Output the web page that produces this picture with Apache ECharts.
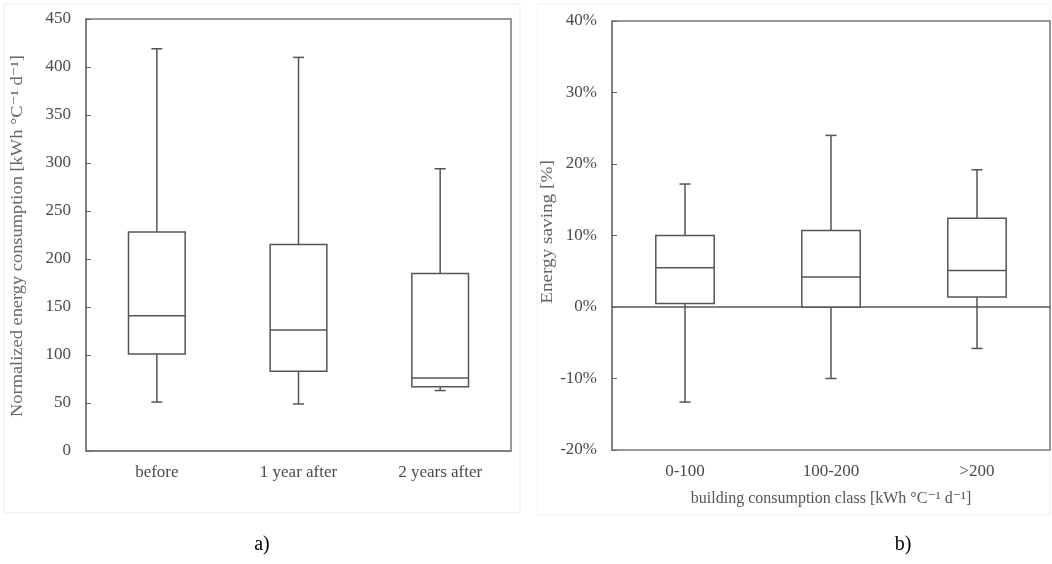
<!DOCTYPE html>
<html>
<head>
<meta charset="utf-8">
<script src="https://cdn.jsdelivr.net/npm/echarts@6/dist/echarts.min.js"></script>
<style>
  html, body { margin: 0; padding: 0; background: #fff; }
  #chart { width: 1052px; height: 564px; }
</style>
</head>
<body>
<div id="chart"></div>
<script>
// Panel a: normalized energy consumption before / after
const periods = ['before', '1 year after', '2 years after'];
const periodLow = [51, 49, 63];
const periodQ1 = [101, 83, 67];
const periodMedian = [141, 126, 76];
const periodQ3 = [228, 215, 185];
const periodHigh = [419, 410, 294];
const consumptionTicks = [0, 50, 100, 150, 200, 250, 300, 350, 400, 450];

// Panel b: energy saving per building consumption class (%)
const classes = ['0-100', '100-200', '>200'];
const savingLow = [-13.3, -10, -5.8];
const savingQ1 = [0.5, 0, 1.4];
const savingMedian = [5.5, 4.2, 5.1];
const savingQ3 = [10, 10.7, 12.4];
const savingHigh = [17.2, 24, 19.2];
const savingTicks = [-20, -10, 0, 10, 20, 30, 40];

const FONT = '"Liberation Serif", "DejaVu Serif", serif';
const LINE = '#555';
const TEXT = '#4a4a4a';

function boxRows(low, q1, med, q3, high) {
  return low.map((v, i) => [i, v, q1[i], med[i], q3[i], high[i]]);
}

// Box with whiskers and short end caps
function renderBox(params, api) {
  const i = api.value(0);
  const pLow = api.coord([i, api.value(1)]);
  const pQ1 = api.coord([i, api.value(2)]);
  const pMed = api.coord([i, api.value(3)]);
  const pQ3 = api.coord([i, api.value(4)]);
  const pHigh = api.coord([i, api.value(5)]);
  const band = api.size([1, 0])[0];
  const half = band * 0.2;
  const cap = 5.5;
  const x = pMed[0];
  const st = { stroke: LINE, lineWidth: 1.5, fill: null };
  return {
    type: 'group',
    children: [
      { type: 'line', shape: { x1: x, y1: pLow[1], x2: x, y2: pQ1[1] }, style: st },
      { type: 'line', shape: { x1: x, y1: pQ3[1], x2: x, y2: pHigh[1] }, style: st },
      { type: 'line', shape: { x1: x - cap, y1: pLow[1], x2: x + cap, y2: pLow[1] }, style: st },
      { type: 'line', shape: { x1: x - cap, y1: pHigh[1], x2: x + cap, y2: pHigh[1] }, style: st },
      { type: 'rect', shape: { x: x - half, y: pQ3[1], width: half * 2, height: pQ1[1] - pQ3[1] },
        style: { stroke: LINE, lineWidth: 1.5, fill: '#fff' } },
      { type: 'line', shape: { x1: x - half, y1: pMed[1], x2: x + half, y2: pMed[1] }, style: st }
    ]
  };
}

const chart = echarts.init(document.getElementById('chart'), null, { renderer: 'canvas' });

const labelStyle = { color: TEXT, fontFamily: FONT, fontSize: 17 };

chart.setOption({
  animation: false,
  backgroundColor: '#fff',
  grid: [
    { left: 86, top: 19, width: 425, height: 432, show: true, borderColor: '#777', borderWidth: 1.5, backgroundColor: 'transparent' },
    { left: 612, top: 21, width: 438, height: 429, show: true, borderColor: '#777', borderWidth: 1.5, backgroundColor: 'transparent' }
  ],
  xAxis: [
    {
      type: 'category', gridIndex: 0, data: periods,
      axisLine: { lineStyle: { color: '#777', width: 1.5 } },
      axisTick: { inside: true, length: 4, lineStyle: { color: '#666' } },
      axisLabel: Object.assign({ margin: 13 }, labelStyle)
    },
    {
      type: 'category', gridIndex: 1, data: classes,
      axisLine: { onZero: true, lineStyle: { color: '#555', width: 1.5 } },
      axisTick: { inside: true, length: 4, lineStyle: { color: '#555' } },
      axisLabel: { show: false }
    },
    {
      type: 'category', gridIndex: 1, data: classes, position: 'bottom',
      axisLine: { show: false, onZero: false },
      axisTick: { show: false },
      axisLabel: Object.assign({ margin: 13 }, labelStyle)
    }
  ],
  yAxis: [
    {
      type: 'value', gridIndex: 0,
      min: consumptionTicks[0], max: consumptionTicks[consumptionTicks.length - 1], interval: 50,
      axisLine: { show: true, lineStyle: { color: '#777', width: 1.5 } },
      axisTick: { show: true, inside: true, length: 5, lineStyle: { color: '#666' } },
      splitLine: { show: false },
      axisLabel: Object.assign({ margin: 15 }, labelStyle)
    },
    {
      type: 'value', gridIndex: 1,
      min: savingTicks[0], max: savingTicks[savingTicks.length - 1], interval: 10,
      axisLine: { show: true, lineStyle: { color: '#777', width: 1.5 } },
      axisTick: { show: true, inside: true, length: 5, lineStyle: { color: '#666' } },
      splitLine: { show: false },
      axisLabel: Object.assign({ margin: 15, formatter: '{value}%' }, labelStyle)
    }
  ],
  series: [
    {
      type: 'custom', xAxisIndex: 0, yAxisIndex: 0,
      renderItem: renderBox,
      encode: { x: 0, y: [1, 2, 3, 4, 5] },
      data: boxRows(periodLow, periodQ1, periodMedian, periodQ3, periodHigh),
      z: 5
    },
    {
      type: 'custom', xAxisIndex: 1, yAxisIndex: 1,
      renderItem: renderBox,
      encode: { x: 0, y: [1, 2, 3, 4, 5] },
      data: boxRows(savingLow, savingQ1, savingMedian, savingQ3, savingHigh),
      z: 5
    }
  ],
  graphic: [
    // faint panel outlines
    { type: 'rect', shape: { x: 4, y: 4, width: 516, height: 509 }, style: { fill: null, stroke: '#ededed', lineWidth: 1 }, z: -1 },
    { type: 'rect', shape: { x: 537, y: 4, width: 513, height: 511 }, style: { fill: null, stroke: '#f0f0f0', lineWidth: 1 }, z: -1 },
    {
      type: 'text', x: 18, y: 236, rotation: Math.PI / 2, scaleX: 1.15,
      style: { text: 'Normalized energy consumption [kWh °C⁻¹ d⁻¹]', fill: '#666', font: '16px ' + FONT, align: 'center', verticalAlign: 'middle' }
    },
    {
      type: 'text', x: 548, y: 232, rotation: Math.PI / 2, scaleX: 1.2,
      style: { text: 'Energy saving [%]', fill: '#666', font: '16px ' + FONT, align: 'center', verticalAlign: 'middle' }
    },
    {
      type: 'text', x: 831, y: 499,
      style: { text: 'building consumption class [kWh °C⁻¹ d⁻¹]', fill: '#555', font: '16px ' + FONT, align: 'center', verticalAlign: 'middle' }
    },
    {
      type: 'text', x: 262, y: 545,
      style: { text: 'a)', fill: '#000', font: '20px ' + FONT, align: 'center', verticalAlign: 'middle' }
    },
    {
      type: 'text', x: 903, y: 545,
      style: { text: 'b)', fill: '#000', font: '20px ' + FONT, align: 'center', verticalAlign: 'middle' }
    }
  ]
});
</script>
</body>
</html>
